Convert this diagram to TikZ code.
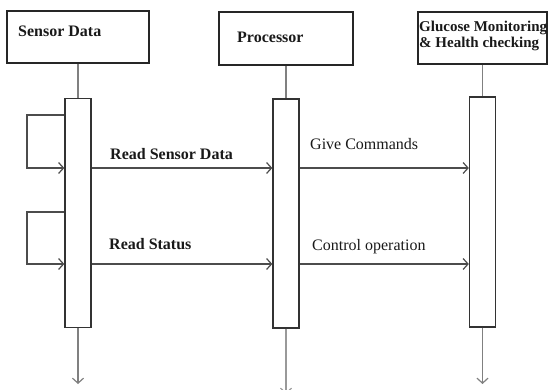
\documentclass[tikz,border=0pt]{standalone}
\usepackage{fontspec}
\setmainfont{Liberation Serif}
\usetikzlibrary{arrows.meta,positioning}

\tikzset{
  obj/.style={draw=black!85, line width=1.6pt, minimum width=#1, minimum height=52pt, inner sep=0pt},
  bar/.style={draw=black!80, line width=1.3pt, fill=white, minimum width=26pt, minimum height=229pt, inner sep=0pt},
  msg/.style={draw=black!70, line width=1.2pt, -{Straight Barb[length=5pt,width=11pt]}},
  life/.style={draw=black!50, line width=1.2pt},
  txt/.style={inner sep=0pt, text=black!90, font=\fontsize{16}{16}\selectfont},
}

\begin{document}
\begin{tikzpicture}[x=1pt,y=-1pt]
	\useasboundingbox (0,0) rectangle (549,390);

	\node[obj=142pt] (sensor) at (78,37) {};
	\node[obj=134pt, minimum height=53pt] (proc) at (286,38.5) {};
	\node[obj=129pt] (gluc) at (482.5,38) {};

	\node[txt, font=\fontsize{16}{16}\selectfont\bfseries] (sensor-name) at (18,37)[anchor=base west] {Sensor Data};
	\node[txt, font=\fontsize{16}{16}\selectfont\bfseries] (proc-name) at (237,43)[anchor=base west] {Processor};
	\node[txt, font=\fontsize{15}{16}\selectfont\bfseries, align=left] (gluc-name) at (419,21)[anchor=north west] {Glucose Monitoring\\\& Health checking};

	\node[bar] (bar1) at (78,213) {};
	\node[bar] (bar2) at (286,213.5) {};
	\node[bar, minimum height=230pt] (bar3) at (482.5,212) {};

	\draw[life] (sensor) -- (bar1);
	\draw[life] (proc) -- (bar2);
	\draw[life] (gluc) -- (bar3);

	\coordinate (end1) at (78,384);
	\coordinate (end2) at (286,394);
	\coordinate (end3) at (482.5,384);
	\draw[msg, draw=black!50] (bar1) -- (end1);
	\draw[msg, draw=black!40] (bar2) -- (end2);
	\draw[msg, draw=black!50] (bar3) -- (end3);

	\coordinate (row1) at (0,168);
	\coordinate (row2) at (0,264);
	\coordinate (loop1) at (27,115);
	\coordinate (loop2) at (27,212);

	\draw[msg] (bar1.west |- loop1) -- (loop1) -- (loop1 |- row1) -- (bar1.west |- row1);
	\draw[msg] (bar1.west |- loop2) -- (loop2) -- (loop2 |- row2) -- (bar1.west |- row2);

	\draw[msg] (bar1.east |- row1) -- (bar2.west |- row1);
	\draw[msg] (bar1.east |- row2) -- (bar2.west |- row2);
	\draw[msg] (bar2.east |- row1) -- (bar3.west |- row1);
	\draw[msg] (bar2.east |- row2) -- (bar3.west |- row2);

	\node[txt, font=\fontsize{16}{16}\selectfont\bfseries] (read-data) at (110,160)[anchor=base west] {Read Sensor Data};
	\node[txt, font=\fontsize{16}{16}\selectfont\bfseries] (read-status) at (109,250)[anchor=base west] {Read Status};
	\node[txt] (commands) at (310,150)[anchor=base west] {Give Commands};
	\node[txt] (control) at (312,251)[anchor=base west] {Control operation};
\end{tikzpicture}
\end{document}
